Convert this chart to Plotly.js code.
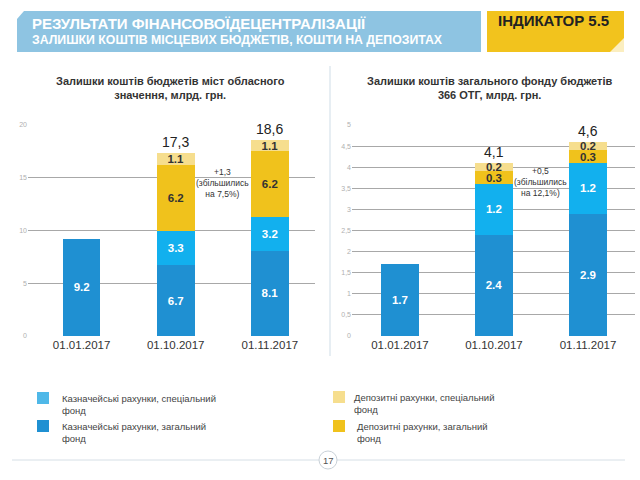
<!DOCTYPE html>
<html><head><meta charset="utf-8">
<script src="https://cdn.plot.ly/plotly-3.0.1.min.js"></script>
<style>html,body{margin:0;padding:0;background:#fff}#chart{width:640px;height:480px}</style>
</head><body><div id="chart"></div>
<script>
// ---- data ----
const dates = ['01.01.2017', '01.10.2017', '01.11.2017'];
// left chart: cities of oblast significance, bn UAH
const cityTreasuryGeneral = [9.2, 6.7, 8.1];
const cityTreasurySpecial = [null, 3.3, 3.2];
const cityDepositGeneral  = [null, 6.2, 6.2];
const cityDepositSpecial  = [null, 1.1, 1.1];
// right chart: general fund of 366 OTG, bn UAH
const otgTreasuryGeneral = [1.7, 2.4, 2.9];
const otgTreasurySpecial = [null, 1.2, 1.2];
const otgDepositGeneral  = [null, 0.3, 0.3];
const otgDepositSpecial  = [null, 0.2, 0.2];
const leftTicks  = [0, 5, 10, 15, 20];
const rightTicks = [0, 0.5, 1, 1.5, 2, 2.5, 3, 3.5, 4, 4.5, 5];
const seriesNames = {
  treasurySpecial: 'Казначейські рахунки, спеціальний<br>фонд',
  treasuryGeneral: 'Казначейські рахунки, загальний<br>фонд',
  depositSpecial: 'Депозитні рахунки, спеціальний<br>фонд',
  depositGeneral: 'Депозитні рахунки, загальний<br>фонд'
};
const leftNote  = '+1,3<br>(збільшились<br>на 7,5%)';
const rightNote = '+0,5<br>(збільшились<br>на 12,1%)';

// ---- style ----
const C = {
  tg: '#1f90d2', ts: '#12b0ee', dg: '#f0c21c', ds: '#f6de8e',
  legTs: '#4fb8e8'
};
const FONT = 'Liberation Sans, Arial, sans-serif';

function bar(name, y, color, txtColor, xa, ya) {
  return {
    type: 'bar', x: dates, y: y, name: name, xaxis: xa, yaxis: ya,
    marker: {color: color, line: {width: 0}},
    texttemplate: '%{y:.1f}', textposition: 'inside', insidetextanchor: 'middle',
    textangle: 0, constraintext: 'none', cliponaxis: false,
    textfont: {color: txtColor, size: 11.5, family: FONT, weight: 'bold'},
    showlegend: false, hoverinfo: 'skip'
  };
}

const traces = [
  bar(seriesNames.treasuryGeneral, cityTreasuryGeneral, C.tg, '#ffffff', 'x', 'y'),
  bar(seriesNames.treasurySpecial, cityTreasurySpecial, C.ts, '#ffffff', 'x', 'y'),
  bar(seriesNames.depositGeneral, cityDepositGeneral, C.dg, '#333333', 'x', 'y'),
  bar(seriesNames.depositSpecial, cityDepositSpecial, C.ds, '#333333', 'x', 'y'),
  bar(seriesNames.treasuryGeneral, otgTreasuryGeneral, C.tg, '#ffffff', 'x2', 'y2'),
  bar(seriesNames.treasurySpecial, otgTreasurySpecial, C.ts, '#ffffff', 'x2', 'y2'),
  bar(seriesNames.depositGeneral, otgDepositGeneral, C.dg, '#333333', 'x2', 'y2'),
  bar(seriesNames.depositSpecial, otgDepositSpecial, C.ds, '#333333', 'x2', 'y2')
];

function sum(i, arrs) { return arrs.reduce((s, a) => s + (a[i] || 0), 0); }
const leftSets = [cityTreasuryGeneral, cityTreasurySpecial, cityDepositGeneral, cityDepositSpecial];
const rightSets = [otgTreasuryGeneral, otgTreasurySpecial, otgDepositGeneral, otgDepositSpecial];

const P = (px, py) => ({x: px / 640, y: 1 - py / 480, xref: 'paper', yref: 'paper'});
const annotations = [];
[1, 2].forEach(i => {
  const tl = sum(i, leftSets), tr = sum(i, rightSets);
  annotations.push({x: dates[i], y: tl, xref: 'x', yref: 'y', text: tl.toFixed(1).replace('.', ','),
    showarrow: false, xanchor: 'center', yanchor: 'bottom', yshift: 1, font: {size: 14, color: '#222', family: FONT}});
  annotations.push({x: dates[i], y: tr, xref: 'x2', yref: 'y2', text: tr.toFixed(1).replace('.', ','),
    showarrow: false, xanchor: 'center', yanchor: 'bottom', yshift: 1, font: {size: 14, color: '#222', family: FONT}});
});
annotations.push({x: 1.5, y: 14.5, xref: 'x', yref: 'y', text: leftNote, showarrow: false,
  xanchor: 'center', yanchor: 'middle', font: {size: 8.5, color: '#333', family: FONT}});
annotations.push({x: 1.5, y: 3.65, xref: 'x2', yref: 'y2', text: rightNote, showarrow: false,
  xanchor: 'center', yanchor: 'middle', font: {size: 8.5, color: '#333', family: FONT}});
// chart titles
annotations.push(Object.assign(P(170, 88), {showarrow: false, xanchor: 'center', yanchor: 'middle',
  text: '<b>Залишки коштів бюджетів міст обласного<br>значення, млрд. грн.</b>',
  font: {size: 11, color: '#333', family: FONT}}));
annotations.push(Object.assign(P(489, 88), {showarrow: false, xanchor: 'center', yanchor: 'middle',
  text: '<b>Залишки коштів загального фонду бюджетів<br>366 ОТГ, млрд. грн.</b>',
  font: {size: 11, color: '#333', family: FONT}}));
// header texts
annotations.push(Object.assign(P(30, 23), {showarrow: false, xanchor: 'left', yanchor: 'middle',
  text: '<b>РЕЗУЛЬТАТИ ФІНАНСОВОЇДЕЦЕНТРАЛІЗАЦІЇ</b>', font: {size: 15, color: '#ffffff', family: FONT}}));
annotations.push(Object.assign(P(30, 40), {showarrow: false, xanchor: 'left', yanchor: 'middle',
  text: '<b>ЗАЛИШКИ КОШТІВ МІСЦЕВИХ БЮДЖЕТІВ, КОШТИ НА ДЕПОЗИТАХ</b>', font: {size: 12.3, color: '#ffffff', family: FONT}}));
annotations.push(Object.assign(P(553, 21), {showarrow: false, xanchor: 'center', yanchor: 'middle',
  text: '<b>ІНДИКАТОР 5.5</b>', font: {size: 15, color: '#222', family: FONT}}));
// page number
annotations.push(Object.assign(P(328, 460), {showarrow: false, xanchor: 'center', yanchor: 'middle',
  text: '17', font: {size: 9.5, color: '#555', family: FONT}}));

// legend drawn with shapes + text (two columns)
const legendItems = [
  {c: C.legTs, t: seriesNames.treasurySpecial, x: 37, y: 392, tx: 60},
  {c: C.tg, t: seriesNames.treasuryGeneral, x: 37, y: 420, tx: 60},
  {c: C.ds, t: seriesNames.depositSpecial, x: 333, y: 391, tx: 352},
  {c: C.dg, t: seriesNames.depositGeneral, x: 333, y: 420, tx: 355}
];
const shapes = [
  // header banner
  {type: 'rect', xref: 'paper', yref: 'paper', x0: 17/640, x1: 481/640, y0: 1 - 52/480, y1: 1 - 11/480,
   fillcolor: '#8ec4e2', line: {width: 0}, layer: 'below'},
  {type: 'path', xref: 'paper', yref: 'paper',
   path: `M ${17/640} ${1-11/480} L ${24/640} ${1-11/480} L ${17/640} ${1-19/480} Z`,
   fillcolor: '#ffffff', line: {width: 0}},
  {type: 'rect', xref: 'paper', yref: 'paper', x0: 487/640, x1: 624/640, y0: 1 - 52/480, y1: 1 - 11/480,
   fillcolor: '#f2c31d', line: {width: 0}, layer: 'below'},
  {type: 'path', xref: 'paper', yref: 'paper',
   path: `M ${624/640} ${1-38/480} L ${624/640} ${1-52/480} L ${610/640} ${1-52/480} Z`,
   fillcolor: '#fbeec0', line: {width: 0}},
  // separator
  {type: 'line', xref: 'paper', yref: 'paper', x0: 330/640, x1: 330/640, y0: 1 - 66/480, y1: 1 - 356/480,
   line: {color: '#dfe8ef', width: 1.5}},
  // footer line + circle
  {type: 'line', xref: 'paper', yref: 'paper', x0: 12/640, x1: 625/640, y0: 1 - 460/480, y1: 1 - 460/480,
   line: {color: '#d6dfe6', width: 1}},
  {type: 'circle', xref: 'paper', yref: 'paper', x0: 319/640, x1: 337/640, y0: 1 - 469/480, y1: 1 - 451/480,
   fillcolor: '#ffffff', line: {color: '#c9d1d8', width: 1}}
];
legendItems.forEach(it => {
  shapes.push({type: 'rect', xref: 'paper', yref: 'paper', x0: it.x/640, x1: (it.x + 12)/640,
    y0: 1 - (it.y + 12)/480, y1: 1 - it.y/480, fillcolor: it.c, line: {width: 0}});
  annotations.push(Object.assign(P(it.tx, it.y - 1), {xanchor: 'left', yanchor: 'top',
    align: 'left', showarrow: false, text: it.t, font: {size: 9.5, color: '#444', family: FONT}}));
});

const axisY = (ticks) => ({
  domain: [1 - 336/480, 1 - 125/480], range: [0, ticks[ticks.length - 1]], tickvals: ticks,
  ticktext: ticks.map(v => String(v).replace('.', ',')),
  showgrid: true, gridcolor: '#a8a8a8', gridwidth: 1, zeroline: false, showline: false,
  tickfont: {size: 7, color: '#b0b0b0', family: FONT}, ticks: '', ticklen: 0, fixedrange: true
});
const axisX = (dom, rng) => ({
  domain: dom, range: rng, type: 'category', showgrid: false, zeroline: false, showline: false,
  tickfont: {size: 11.5, color: '#333', family: FONT}, ticks: '', fixedrange: true
});

const layout = {
  width: 640, height: 480, margin: {l: 0, r: 0, t: 0, b: 0},
  paper_bgcolor: '#ffffff', plot_bgcolor: 'rgba(0,0,0,0)',
  barmode: 'stack', bargap: 0.6, showlegend: false,
  font: {family: FONT},
  xaxis: axisX([28/640, 315/640], [-0.57, 2.48]),
  yaxis: Object.assign(axisY(leftTicks), {anchor: 'x'}),
  xaxis2: Object.assign(axisX([352/640, 635/640], [-0.51, 2.5]), {anchor: 'y2'}),
  yaxis2: Object.assign(axisY(rightTicks), {anchor: 'x2'}),
  annotations: annotations, shapes: shapes
};

Plotly.newPlot('chart', traces, layout, {staticPlot: true, displayModeBar: false});
</script></body></html>
